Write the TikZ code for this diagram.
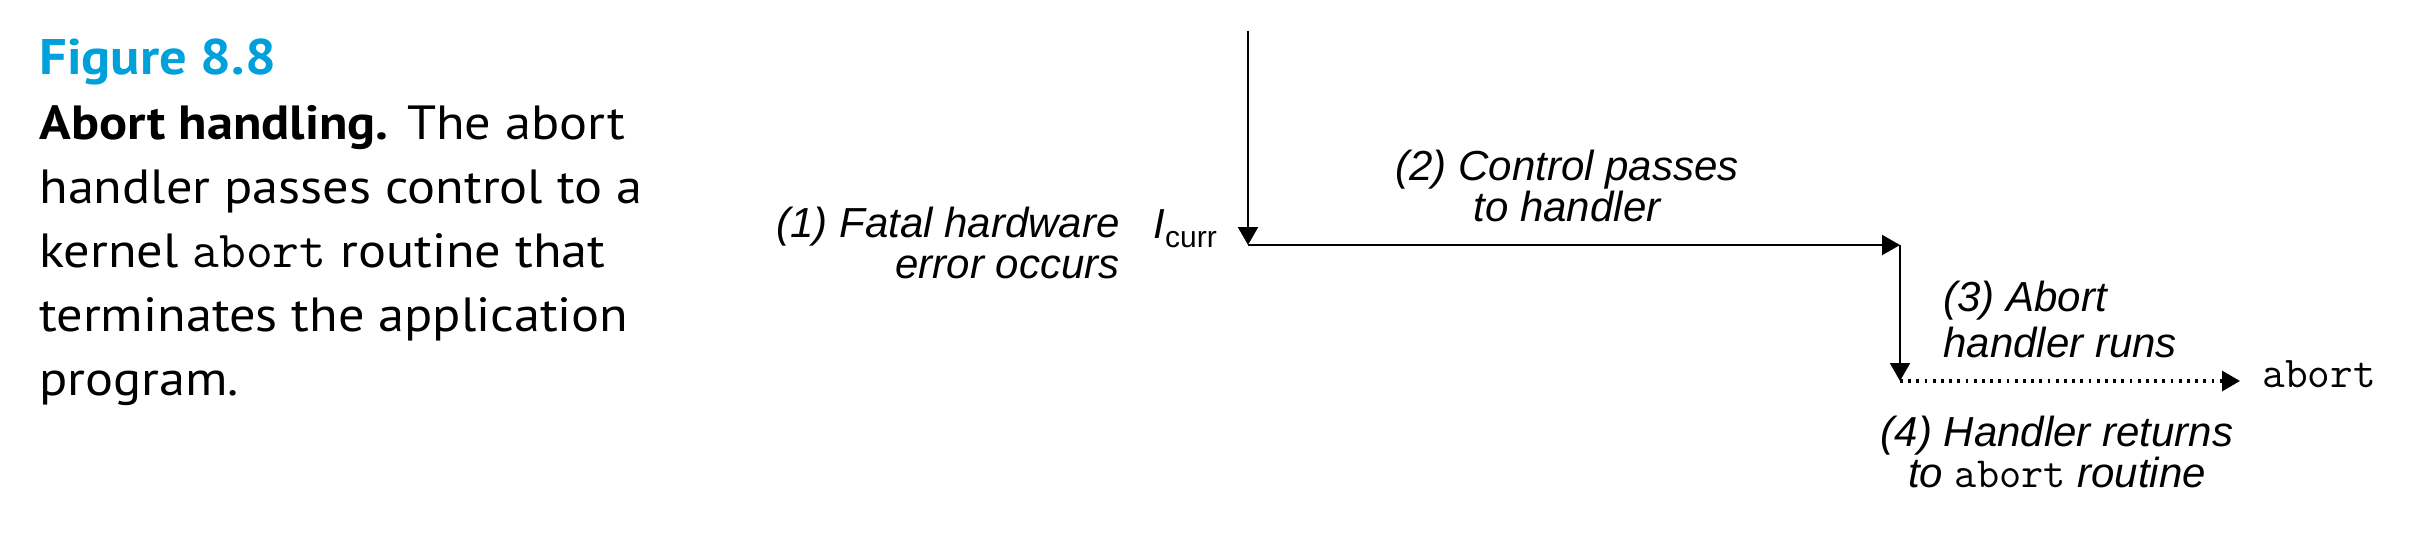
\documentclass[tikz,border=0pt]{standalone}
\usepackage{fontspec}
\setmainfont[FakeStretch=1.09]{PT Sans}
\newfontfamily\labfont{Liberation Sans}
\usetikzlibrary{arrows.meta}
\definecolor{figblue}{RGB}{0,160,218}
\begin{document}
\begin{tikzpicture}[x=0.5pt,y=-0.5pt,
  flow/.style={line width=1.05pt,-{Triangle[length=9pt,width=10pt]}},
  dotflow/.style={line width=1.6pt,dash pattern=on 1.4pt off 2.7pt,-{Triangle[length=9pt,width=10pt]}},
  lab/.style={inner sep=0pt,font=\labfont\itshape\fontsize{21}{20.5}\selectfont},
  capt/.style={inner sep=0pt,font=\fontsize{24}{32}\selectfont}]
\useasboundingbox (0,0) rectangle (2412,540);
% caption
\node[capt,anchor=base west,font=\bfseries\fontsize{25}{32}\selectfont,text=figblue] (fig) at (39,75) {Figure 8.8};
\node[capt,anchor=base west,align=left] (cap) at (39,395) {\textbf{Abort handling.} The abort\\handler passes control to a\\kernel {\ttfamily\fontsize{26}{32}\selectfont abort} routine that\\terminates the application\\program.};
% flow
\coordinate (top) at (1248,31);
\coordinate (cur) at (1248,245);
\coordinate (hnd) at (1900,245);
\coordinate (run) at (1900,381);
\coordinate (ret) at (2240,381);
\draw[flow] (top) -- (cur);
\draw[flow] (cur) -- (hnd);
\draw[flow] (hnd) -- (run);
\draw[dotflow] (run) -- (ret);
% labels
\node[lab,anchor=base east,align=right] (l1) at (1120,278) {(1) Fatal hardware\\error occurs};
\node[lab,anchor=base west] (icurr) at (1153,238) {I\raisebox{-4.5pt}{\upshape\fontsize{15}{15}\selectfont curr}};
\node[lab,anchor=base,align=center] (l2) at (1567,221) {(2) Control passes\\to handler};
\node[lab,anchor=base west,align=left,font=\labfont\itshape\fontsize{21}{23}\selectfont] (l3) at (1943,357) {(3) Abort\\handler runs};
\node[lab,anchor=base,align=center] (l4) at (2057,487) {(4) Handler returns\\to {\upshape\ttfamily\fontsize{21.5}{20.5}\selectfont abort} routine};
\node[inner sep=0pt,anchor=base west,font=\ttfamily\fontsize{22}{22}\selectfont] (ab) at (2262,387) {abort};
\end{tikzpicture}
\end{document}
